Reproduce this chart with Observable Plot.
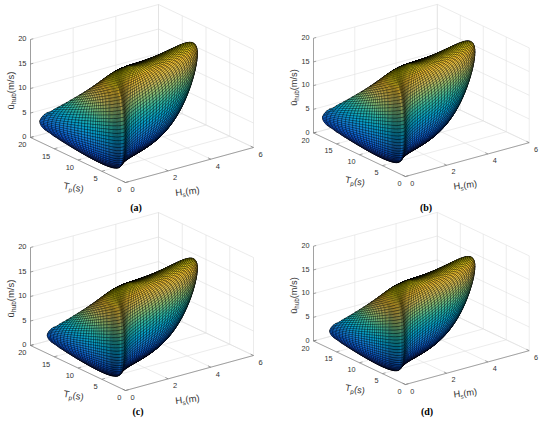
<!DOCTYPE html>
<html>
<head>
<meta charset="utf-8">
<script src="https://cdn.jsdelivr.net/npm/d3@7"></script>
<script src="https://cdn.jsdelivr.net/npm/@observablehq/plot@0.6"></script>
<style>
  html, body { margin:0; padding:0; background:#fff; }
  #fig { position:relative; width:550px; height:423px; overflow:hidden; background:#fff; }
  .panel { position:absolute; }
  .cap { position:absolute; width:40px; margin-left:-20px; text-align:center;
         font-family:"Liberation Serif","Times New Roman",serif; font-weight:bold;
         font-size:10px; line-height:12px; color:#000; }
</style>
</head>
<body>
<div id="fig"></div>
<script>
// ---------------- values ----------------
const CAPTIONS = ["(a)", "(b)", "(c)", "(d)"];
const CAPTION_POS = [[136, 208], [426, 208], [138, 412], [427, 412]];
const PANEL_POS = [[0, 0], [284, 0], [0, 208], [284, 208]];
const HS_TICKS = [0, 2, 4, 6];
const TP_TICKS = [0, 5, 10, 15, 20];
const U_TICKS = [0, 5, 10, 15, 20];
const PARULA = ["#352a87", "#0f5cdd", "#1481d6", "#06a4ca", "#2eb7a4",
                "#87bf77", "#d1bb59", "#fec832", "#f9fb0e"];

// environmental-contour surface: IFORM sphere (radius β) → Hs, Tp|Hs, ū_hub|Hs,Tp
const BETA       = [3.5, 3.5, 3.5, 3.5];
const HS_WEIBULL = [[1.87, 2.0], [1.87, 2.0], [1.87, 2.0], [1.87, 2.0]];          // scale, shape
const TP_MEDIAN  = [[5.5, 0.7], [5.5, 0.7], [5.5, 0.7], [5.5, 0.7]];              // a + b·Hs
const TP_LOGSD   = [[0.06, 0.37, 2.2, 0.3], [0.06, 0.37, 2.2, 0.3],
                    [0.06, 0.34, 2.2, 0.3], [0.06, 0.34, 2.2, 0.3]];              // a + b·e^(−c·max(0, Hs−d))
const U_SCALE    = [[10.26, 0.34, 0.33], [10.26, 0.34, 0.33], [9.6, 0.36, 0.31], [9.6, 0.36, 0.31]]; // a − b·Tp + c·Hs²
const U_SHAPE    = [[2.5, 0.12], [2.5, 0.12], [2.5, 0.12], [2.5, 0.12]];          // a + b·Hs²

const N_PHI = 56, N_THETA = 120;

// ---------------- helpers ----------------
function erfc(x) {
  const z = Math.abs(x), t = 1 / (1 + 0.5 * z);
  const r = t * Math.exp(-z * z - 1.26551223 + t * (1.00002368 + t * (0.37409196 + t * (0.09678418 +
            t * (-0.18628806 + t * (0.27886807 + t * (-1.13520398 + t * (1.48851587 +
            t * (-0.82215223 + t * 0.17087277)))))))));
  return x >= 0 ? r : 2 - r;
}
function tailH(u) { // −ln(1 − Φ(u))
  if (u > 0) return -Math.log(0.5 * erfc(u / Math.SQRT2));
  return -Math.log1p(-0.5 * erfc(-u / Math.SQRT2));
}
// orthographic view of the axes box (Hs 0–6, Tp 0–20, ū 0–20)
const ORIGIN = [125, 182];
function P(hs, tp, u) {
  return [ORIGIN[0] + 128 * hs / 6 - 95 * tp / 20,
          ORIGIN[1] - 35 * hs / 6 - 45 * tp / 20 - 98 * u / 20];
}
function farness(p) { return 0.56 * p.Hs / 6 + 0.72 * p.Tp / 20 - 0.233 * p.U / 20; }

function buildSurface(k) {
  const b = BETA[k], [lh, kh] = HS_WEIBULL[k], [m0, m1] = TP_MEDIAN[k], [s0, s1, s2, s3] = TP_LOGSD[k];
  const [a0, a1, a2] = U_SCALE[k], [k0, k1] = U_SHAPE[k];
  const grid = [];
  for (let i = 0; i <= N_PHI; i++) {
    const phi = -Math.PI / 2 + Math.PI * i / N_PHI;
    const row = [];
    for (let j = 0; j <= N_THETA; j++) {
      const th = -Math.PI + 2 * Math.PI * j / N_THETA;
      const u1 = b * Math.cos(phi) * Math.cos(th), u2 = b * Math.cos(phi) * Math.sin(th), u3 = b * Math.sin(phi);
      const Hs = lh * Math.pow(tailH(u1), 1 / kh);
      const sig = s0 + s1 * Math.exp(-s2 * Math.max(0, Hs - s3));
      const Tp = (m0 + m1 * Hs) * Math.exp(sig * u2);
      const lu = a0 - a1 * Tp + a2 * Hs * Hs;
      const ku = k0 + k1 * Hs * Hs;
      const U = lu * Math.pow(tailH(u3), 1 / ku);
      row.push({Hs, Tp, U});
    }
    grid.push(row);
  }
  return grid;
}

const ctx = document.createElement("canvas").getContext("2d");
function tw(t, size) { ctx.font = `${size}px "Liberation Sans"`; return ctx.measureText(t).width; }
function richLabel(pieces, cx, cy, angle) {
  const a = angle * Math.PI / 180, c = Math.cos(a), s = Math.sin(a);
  const total = d3.sum(pieces, p => tw(p.t, p.size));
  let off = -total / 2;
  const out = [];
  for (const p of pieces) {
    const dn = p.sub ? 3.0 : 0;
    out.push({t: p.t, size: p.size, x: cx + c * off - s * dn, y: cy + s * off + c * dn, rot: angle});
    off += tw(p.t, p.size);
  }
  return out;
}

const FONT = "Liberation Sans, Arial, sans-serif";
const fig = document.getElementById("fig");

for (let k = 0; k < 4; k++) {
  const grid = buildSurface(k);
  const quads = [];
  for (let i = 0; i < N_PHI; i++) for (let j = 0; j < N_THETA; j++) {
    const c = [grid[i][j], grid[i + 1][j], grid[i + 1][j + 1], grid[i][j + 1]];
    quads.push({c, far: d3.mean(c, farness), u: d3.mean(c, p => p.U)});
  }
  quads.sort((a, b) => b.far - a.far);
  const pts = [];
  quads.forEach((q, id) => q.c.forEach(p => { const [x, y] = P(p.Hs, p.Tp, p.U); pts.push({id, x, y, u: q.u}); }));
  const uAll = grid.flat().map(p => p.U);

  const gridLines = [];
  const seg = (a, b) => { const [x1, y1] = P(...a), [x2, y2] = P(...b); gridLines.push({x1, y1, x2, y2}); };
  for (const h of HS_TICKS) { seg([h, 0, 0], [h, 20, 0]); seg([h, 20, 0], [h, 20, 20]); }
  for (const t of TP_TICKS) { seg([0, t, 0], [6, t, 0]); seg([6, t, 0], [6, t, 20]); }
  for (const u of U_TICKS) { seg([0, 20, u], [6, 20, u]); seg([6, 20, u], [6, 0, u]); }

  const axisLines = [];
  const aseg = (a, b) => { const [x1, y1] = P(...a), [x2, y2] = P(...b); axisLines.push({x1, y1, x2, y2}); };
  aseg([0, 0, 0], [6, 0, 0]); aseg([0, 0, 0], [0, 20, 0]); aseg([0, 20, 0], [0, 20, 20]);
  for (const h of HS_TICKS) aseg([h, 0, 0], [h, 0.6, 0]);
  for (const t of TP_TICKS) aseg([0, t, 0], [0.15, t, 0]);
  for (const u of U_TICKS) aseg([0, 20, u], [0.13, 20, u]);

  const hsLab = HS_TICKS.map(v => { const [x, y] = P(v, 0, 0); return {x: x + 7, y: y + 7, t: String(v)}; });
  const tpLab = TP_TICKS.map(v => { const [x, y] = P(0, v, 0); return {x: x - 4, y: y + 7.5, t: String(v)}; });
  const uLab = U_TICKS.map(v => { const [x, y] = P(0, 20, v); return {x: x - 4, y: y - 0.5, t: String(v)}; });

  const titles = [
    ...richLabel([{t: "ū", size: 9.5}, {t: "hub", size: 6.5, sub: 1}, {t: "(m/s)", size: 9.5}], 10, 90, -90),
    ...richLabel([{t: "T", size: 9.5}, {t: "p", size: 6.5, sub: 1}, {t: "(s)", size: 9.5}], 73, 187, 10),
    ...richLabel([{t: "H", size: 9.5}, {t: "s", size: 6.5, sub: 1}, {t: "(m)", size: 9.5}], 187, 191, -7)
  ];

  const svg = Plot.plot({
    width: 275, height: 210, margin: 0,
    style: {background: "transparent", overflow: "visible"},
    x: {type: "linear", domain: [0, 275], range: [0, 275], axis: null},
    y: {type: "linear", domain: [0, 210], range: [0, 210], axis: null},
    color: {type: "linear", domain: [d3.min(uAll), d3.max(uAll)], interpolate: d3.piecewise(d3.interpolateRgb, PARULA)},
    marks: [
      Plot.link(gridLines, {x1: "x1", y1: "y1", x2: "x2", y2: "y2", stroke: "#dedede", strokeWidth: 0.6}),
      Plot.link(axisLines, {x1: "x1", y1: "y1", x2: "x2", y2: "y2", stroke: "#6b6b6b", strokeWidth: 0.6}),
      Plot.line(pts, {x: "x", y: "y", z: "id", fill: "u", stroke: "#000", strokeWidth: 0.33, strokeOpacity: 0.9, curve: "linear-closed"}),
      Plot.text(hsLab, {x: "x", y: "y", text: "t", fontSize: 7.5, fontFamily: FONT, fill: "#333", textAnchor: "middle"}),
      Plot.text(tpLab, {x: "x", y: "y", text: "t", fontSize: 7.5, fontFamily: FONT, fill: "#333", textAnchor: "end"}),
      Plot.text(uLab, {x: "x", y: "y", text: "t", fontSize: 7.5, fontFamily: FONT, fill: "#333", textAnchor: "end"}),
      ...titles.map(p => Plot.text([p], {x: "x", y: "y", text: "t", fontSize: p.size, rotate: p.rot, fontFamily: FONT, fill: "#333", textAnchor: "start"}))
    ]
  });
  const div = document.createElement("div");
  div.className = "panel";
  div.style.left = PANEL_POS[k][0] + "px";
  div.style.top = PANEL_POS[k][1] + "px";
  div.appendChild(svg);
  fig.appendChild(div);

  const cap = document.createElement("div");
  cap.className = "cap";
  cap.textContent = CAPTIONS[k];
  cap.style.left = CAPTION_POS[k][0] + "px";
  cap.style.top = (CAPTION_POS[k][1] - 6) + "px";
  fig.appendChild(cap);
}
</script>
</body>
</html>
